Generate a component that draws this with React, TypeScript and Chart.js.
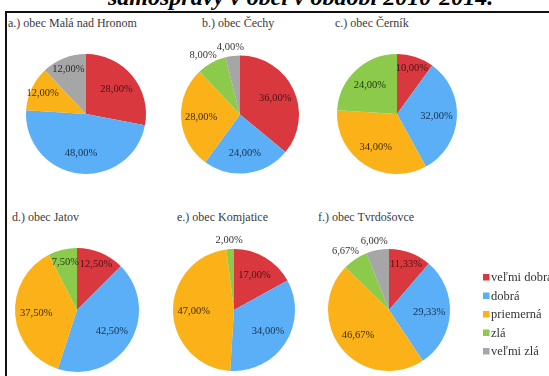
import React, { useEffect, useRef } from 'react';
import { Chart, registerables } from 'chart.js';

Chart.register(...registerables);

// ---- data ----
const heading = 'samosprávy v obci v období 2010-2014.';
const categories = ['veľmi dobrá', 'dobrá', 'priemerná', 'zlá', 'veľmi zlá'];
const villageTitles = [
  'a.) obec Malá nad Hronom',
  'b.) obec Čechy',
  'c.) obec Černík',
  'd.) obec Jatov',
  'e.) obec Komjatice',
  'f.) obec Tvrdošovce',
];
const valuesMalaNadHronom = [28, 48, 12, 0, 12];
const valuesCechy = [36, 24, 28, 8, 4];
const valuesCernik = [10, 32, 34, 24, 0];
const valuesJatov = [12.5, 42.5, 37.5, 7.5, 0];
const valuesKomjatice = [17, 34, 47, 2, 0];
const valuesTvrdosovce = [11.33, 29.33, 46.67, 6.67, 6];

// ---- style ----
const sliceColors = ['#d9393e', '#5aaff6', '#fbb118', '#8cca4b', '#a6a6a6'];
const labelColors = ['#4a1216', '#1a2f50', '#3f2d05', '#1f3810', '#2a2a2a'];
const SERIF = '"Liberation Serif", "Times New Roman", serif';
const W = 549;
const H = 376;

const panels = [
  { title: villageTitles[0], values: valuesMalaNadHronom, cx: 86, cy: 114, r: 60, outsideBelow: 7, tx: 8, ty: 17 },
  { title: villageTitles[1], values: valuesCechy, cx: 240, cy: 114.5, r: 59, outsideBelow: 9, tx: 202, ty: 17 },
  { title: villageTitles[2], values: valuesCernik, cx: 397, cy: 114, r: 60, outsideBelow: 7, tx: 335, ty: 17 },
  { title: villageTitles[3], values: valuesJatov, cx: 77, cy: 310, r: 62, outsideBelow: 7, tx: 12, ty: 211 },
  { title: villageTitles[4], values: valuesKomjatice, cx: 234, cy: 310, r: 61, outsideBelow: 7, tx: 177, ty: 211 },
  { title: villageTitles[5], values: valuesTvrdosovce, cx: 389, cy: 310, r: 61, outsideBelow: 7, tx: 318, ty: 211 },
];

const sliceLabelPlugin = {
  id: 'sliceLabels',
  afterDatasetsDraw(chart: any, _args: any, opts: any) {
    const { ctx } = chart;
    const meta = chart.getDatasetMeta(0);
    const data = chart.data.datasets[0].data as number[];
    ctx.save();
    ctx.font = `10.5px ${SERIF}`;
    ctx.textAlign = 'center';
    ctx.textBaseline = 'middle';
    meta.data.forEach((arc: any, i: number) => {
      const v = data[i];
      if (!v) return;
      const p = arc.getProps(['x', 'y', 'startAngle', 'endAngle', 'outerRadius'], true);
      const mid = (p.startAngle + p.endAngle) / 2;
      const dx = Math.cos(mid);
      const dy = Math.sin(mid);
      const text = v.toFixed(2).replace('.', ',') + '%';
      let lx: number;
      let ly: number;
      let color: string;
      if (v < opts.outsideBelow) {
        const w = ctx.measureText(text).width;
        const h = 10;
        const a = p.outerRadius + 4;
        lx = p.x + dx * a + (dx * w) / 2;
        ly = p.y + dy * a + (dy * h) / 2;
        color = '#333333';
      } else {
        const f = v < 15 ? 0.8 : 0.66;
        lx = p.x + dx * p.outerRadius * f;
        ly = p.y + dy * p.outerRadius * f;
        color = labelColors[i];
      }
      ctx.fillStyle = color;
      ctx.fillText(text, lx, ly);
    });
    ctx.restore();
  },
};

const legendPlugin = {
  id: 'sideLegend',
  afterDraw(chart: any, _args: any, opts: any) {
    if (!opts || !opts.show) return;
    const { ctx } = chart;
    ctx.save();
    ctx.font = `12.5px ${SERIF}`;
    ctx.textAlign = 'left';
    ctx.textBaseline = 'middle';
    const labels = chart.data.labels as string[];
    const colors = chart.data.datasets[0].backgroundColor as string[];
    labels.forEach((lab, i) => {
      const y = 277.5 + i * 18.5;
      ctx.fillStyle = colors[i];
      ctx.fillRect(483, y - 3.5, 6.5, 6.5);
      ctx.fillStyle = '#333333';
      ctx.fillText(lab, 491, y + 0.5);
    });
    ctx.restore();
  },
};

export default function App() {
  const refs = useRef<(HTMLCanvasElement | null)[]>([]);

  useEffect(() => {
    const charts = panels.map((pn, idx) => {
      const canvas = refs.current[idx] as HTMLCanvasElement;
      return new Chart(canvas, {
        type: 'pie',
        data: {
          labels: categories,
          datasets: [
            {
              data: pn.values,
              backgroundColor: sliceColors,
              borderWidth: 0,
              hoverOffset: 0,
            },
          ],
        },
        options: {
          animation: false,
          responsive: false,
          maintainAspectRatio: false,
          devicePixelRatio: 1,
          events: [],
          layout: {
            padding: {
              left: pn.cx - pn.r,
              top: pn.cy - pn.r,
              right: W - pn.cx - pn.r,
              bottom: H - pn.cy - pn.r,
            },
          },
          plugins: {
            legend: { display: false },
            tooltip: { enabled: false },
            sliceLabels: { outsideBelow: pn.outsideBelow },
            sideLegend: { show: idx === panels.length - 1 },
          } as any,
        },
        plugins: [sliceLabelPlugin, legendPlugin],
      } as any);
    });
    return () => charts.forEach((c) => c.destroy());
  }, []);

  return (
    <div
      style={{
        position: 'absolute',
        left: 0,
        top: 0,
        width: W,
        height: H,
        overflow: 'hidden',
        background: '#ffffff',
      }}
    >
      <div
        style={{
          position: 'absolute',
          left: 108,
          top: -15,
          font: `italic bold 24px/24px ${SERIF}`,
          whiteSpace: 'nowrap',
          color: '#000',
        }}
      >
        {heading}
      </div>
      <div style={{ position: 'absolute', left: 5, right: 0, top: 11, height: 2, background: '#111' }} />
      <div style={{ position: 'absolute', left: 5, width: 2, top: 11, bottom: 0, background: '#111' }} />
      {panels.map((pn, i) => (
        <div
          key={'t' + i}
          style={{
            position: 'absolute',
            left: pn.tx,
            top: pn.ty,
            font: `12px/12px ${SERIF}`,
            color: '#3a3a3a',
            whiteSpace: 'nowrap',
          }}
        >
          {pn.title}
        </div>
      ))}
      {panels.map((_pn, i) => (
        <canvas
          key={'c' + i}
          ref={(el) => {
            refs.current[i] = el;
          }}
          width={W}
          height={H}
          style={{ position: 'absolute', left: 0, top: 0, width: W, height: H }}
        />
      ))}
    </div>
  );
}
